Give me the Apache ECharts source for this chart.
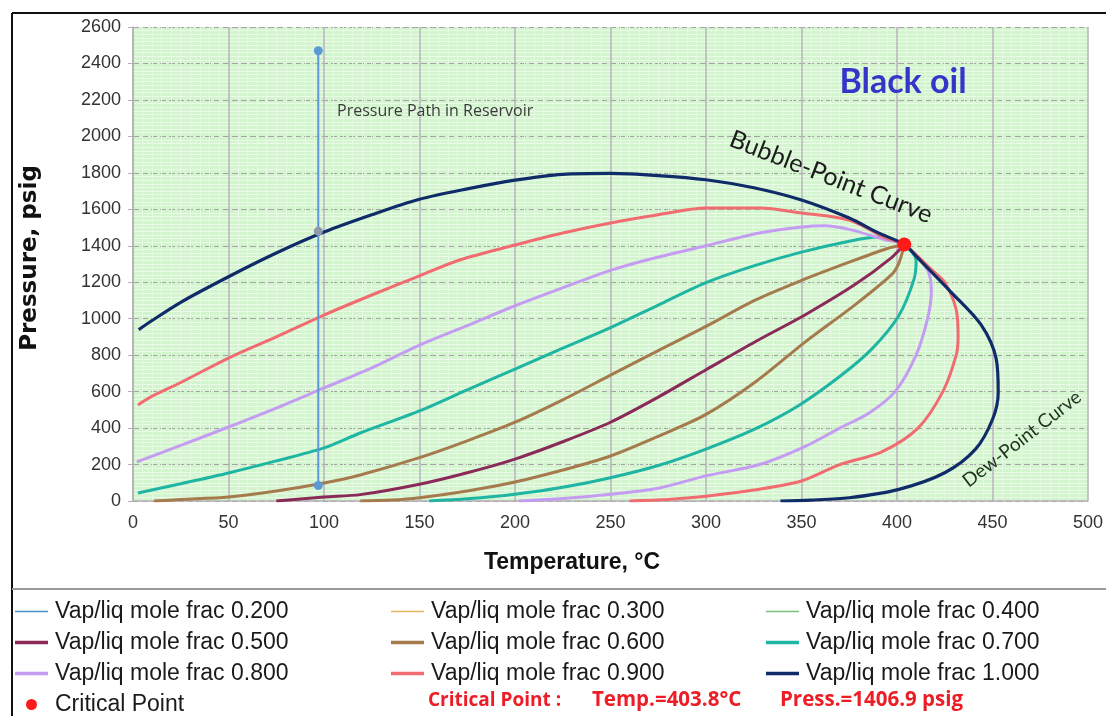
<!DOCTYPE html>
<html>
<head>
<meta charset="utf-8">
<script src="https://cdn.jsdelivr.net/npm/echarts@6/dist/echarts.min.js"></script>
<style>
  html, body { margin: 0; padding: 0; background: #fff; }
  #chart { width: 1106px; height: 716px; }
</style>
</head>
<body>
<div id="chart"></div>
<script>
// Temperature (°C), pressure (psig) pairs
const frac020 = []
const frac030 = []
const frac040 = []
const frac050 = [[75, 0], [100, 22], [119, 35], [150, 92], [175, 155], [200, 230], [225, 325], [250, 432], [275, 570], [300, 720], [326, 875], [352, 1022], [378, 1187], [397, 1334], [403.8, 1406.9]]
const frac060 = [[11, 0], [25, 8], [50, 22], [75, 55], [100, 99], [119, 143], [150, 238], [175, 330], [200, 432], [225, 555], [250, 690], [275, 825], [300, 958], [326, 1103], [350, 1210], [375, 1310], [395, 1385], [403.8, 1406.9],
  [401, 1305], [397, 1240], [378, 1076], [352, 873], [326, 654], [300, 475], [275, 355], [250, 247], [225, 170], [200, 104], [175, 55], [150, 18], [135, 5], [119, 0]]
const frac070 = [[2.6, 44], [25, 95], [50, 154], [75, 220], [100, 291], [119, 373], [150, 494], [175, 610], [200, 723], [225, 838], [250, 951], [275, 1075], [300, 1198], [325, 1290], [350, 1365], [375, 1425], [390, 1448], [398, 1430], [403.8, 1406.9],
  [410, 1322], [409, 1220], [401, 1018], [387, 836], [371, 691], [349, 527], [326, 397], [300, 285], [275, 195], [250, 128], [225, 75], [200, 37], [175, 12], [155, 0]]
const frac080 = [[2, 215], [25, 305], [50, 406], [75, 510], [100, 620], [125, 730], [150, 855], [175, 962], [200, 1071], [225, 1170], [250, 1265], [272, 1330], [300, 1400], [328, 1470], [350, 1503], [362, 1510], [375, 1490], [394, 1432], [403.8, 1406.9],
  [416, 1267], [418, 1150], [416, 1000], [410, 800], [399, 600], [385, 480], [370, 400], [352, 300], [328, 200], [300, 138], [275, 70], [250, 37], [225, 14], [202, 0]]
const frac090 = [[2.6, 527], [10, 575], [25, 650], [50, 784], [75, 900], [100, 1020], [125, 1130], [150, 1235], [171, 1322], [200, 1404], [225, 1470], [250, 1525], [275, 1570], [300, 1607], [328, 1607], [350, 1580], [375, 1541], [394, 1443], [403.8, 1406.9],
  [418, 1270], [425, 1200], [431, 1050], [432, 900], [431, 800], [424, 600], [411, 400], [392, 270], [370, 200], [350, 110], [325, 60], [300, 26], [280, 8], [260, 0]]
const frac100 = [[3, 940], [10, 990], [25, 1090], [50, 1230], [75, 1360], [100, 1475], [125, 1570], [150, 1655], [175, 1712], [200, 1760], [225, 1792], [250, 1797], [275, 1785], [300, 1762], [325, 1718], [350, 1651], [375, 1552], [390, 1472], [403.8, 1406.9],
  [411, 1332], [428, 1149], [444, 967], [452, 777], [453, 594], [450, 447], [441, 283], [425, 155], [401, 64], [375, 18], [355, 5], [339, 0]]
const pressurePath = [[97, 2470], [97, 1480], [97, 85]]
const criticalPoint = [[403.8, 1406.9]]

const fracNames = ['0.200', '0.300', '0.400', '0.500', '0.600', '0.700', '0.800', '0.900', '1.000']
const fracData = [frac020, frac030, frac040, frac050, frac060, frac070, frac080, frac090, frac100]
const fracColors = ['#4f8fc8', '#e8b45c', '#7bbf7b', '#8a2a58', '#a57a4c', '#1fb5a3', '#c49df3', '#f06c70', '#0f2c69']
const fracWidths = [1.5, 1.5, 1.5, 3, 3, 3, 3, 3, 3.2]

const label = f => 'Vap/liq mole frac ' + f
const armFont = '"Liberation Sans", Arial, sans-serif'
const calFont = 'Lato, "Open Sans", sans-serif'
const openFont = '"Open Sans", sans-serif'

// legend icons: flat bars, thin or thick like the series lines
const thinIcon = 'path://M0,0 L44,0 L44,2 L0,2 Z'
const thickIcon = 'path://M0,0 L33,0 L33,3.5 L0,3.5 Z'
const legendItem = f => ({ name: label(f), icon: Number(f) < 0.45 ? thinIcon : thickIcon })

const chart = echarts.init(document.getElementById('chart'))

const series = fracNames.map((f, i) => ({
  name: label(f),
  type: 'line',
  data: fracData[i],
  smooth: 0.3,
  showSymbol: false,
  symbol: 'none',
  color: fracColors[i],
  lineStyle: { color: fracColors[i], width: fracWidths[i] },
  z: 3 + i,
}))

series.push({
  name: 'Pressure Path',
  type: 'line',
  data: pressurePath,
  symbol: 'circle',
  symbolSize: 9,
  color: '#5b9bd5',
  lineStyle: { color: '#5b9bd5', width: 2 },
  itemStyle: { color: p => p.dataIndex === 1 ? '#8f9aae' : '#5b9bd5' },
  z: 20,
})

series.push({
  name: 'Critical Point',
  type: 'scatter',
  data: criticalPoint,
  symbolSize: 14,
  color: '#ff1a1a',
  itemStyle: { color: '#ff1a1a', opacity: 1 },
  z: 30,
})

const legendBase = {
  orient: 'vertical',
  top: 600,
  padding: 0,
  itemWidth: 33,
  itemHeight: 11,
  itemGap: 8,
  textStyle: { fontFamily: armFont, fontSize: 23, color: '#1a1a1a', padding: [0, 0, 0, 2] },
}

chart.setOption({
  animation: false,
  grid: {
    left: 133, top: 27, right: 16, bottom: 215,
    show: true, backgroundColor: '#d3f5ce', borderWidth: 0,
  },
  xAxis: {
    type: 'value', min: 0, max: 500, interval: 50,
    axisLine: { show: true, lineStyle: { color: '#b5b0b5', width: 1.5 } },
    axisTick: { show: false },
    axisLabel: { fontFamily: armFont, fontSize: 18, color: '#333', margin: 13 },
    splitLine: { show: true, lineStyle: { color: '#bab2c0', width: 1.5 } },
    minorTick: { show: false, splitNumber: 10 },
    minorSplitLine: { show: true, lineStyle: { color: '#e6f9e3', width: 1 } },
  },
  yAxis: {
    type: 'value', min: 0, max: 2600, interval: 200,
    name: 'Pressure, psig', nameLocation: 'middle', nameGap: 91,
    nameTextStyle: { fontFamily: '"DejaVu Sans", sans-serif', fontSize: 23, fontWeight: 'bold', color: '#111', padding: [0, 0, 0, 12] },
    axisLine: { show: true, lineStyle: { color: '#b5b0b5', width: 1.5 } },
    axisTick: { show: true, length: 5, lineStyle: { color: '#b5b0b5' } },
    axisLabel: { fontFamily: armFont, fontSize: 18, color: '#333', margin: 12, formatter: v => String(v) },
    splitLine: { show: true, lineStyle: { color: '#aaa2ab', width: 1.2, type: [6, 3] } },
    minorTick: { show: false, splitNumber: 10 },
    minorSplitLine: { show: true, lineStyle: { color: '#ecfbe9', width: 1 } },
  },
  legend: [
    Object.assign({}, legendBase, { left: 15, data: [legendItem('0.200'), legendItem('0.500'), legendItem('0.800'), { name: 'Critical Point', icon: 'circle' }] }),
    Object.assign({}, legendBase, { left: 391, data: [legendItem('0.300'), legendItem('0.600'), legendItem('0.900')] }),
    Object.assign({}, legendBase, { left: 766, data: [legendItem('0.400'), legendItem('0.700'), legendItem('1.000')] }),
  ],
  graphic: [
    { type: 'line', shape: { x1: 12, y1: 13, x2: 1106, y2: 13 }, style: { stroke: '#111', lineWidth: 2 }, silent: true },
    { type: 'line', shape: { x1: 12, y1: 13, x2: 12, y2: 716 }, style: { stroke: '#111', lineWidth: 2 }, silent: true },
    { type: 'line', shape: { x1: 12, y1: 589, x2: 1106, y2: 589 }, style: { stroke: '#9a9a9a', lineWidth: 2 }, silent: true },
    { type: 'text', x: 572, y: 563, z: 50,
      style: { text: 'Temperature, °C', font: 'bold 23px ' + armFont, fill: '#111', align: 'center', verticalAlign: 'middle' } },
    { type: 'text', left: 337, top: 103, z: 50,
      style: { text: 'Pressure Path in Reservoir', font: '16px ' + openFont, fill: '#3a3a3a' } },
    { type: 'text', x: 903, y: 82, z: 50,
      style: { text: 'Black oil', font: 'bold 34px ' + calFont, fill: '#3535c8', align: 'center', verticalAlign: 'middle' } },
    { type: 'text', x: 831, y: 177, rotation: -0.37, z: 50,
      style: { text: 'Bubble-Point Curve', font: '25px ' + calFont, fill: '#1c1c1c', align: 'center', verticalAlign: 'middle' } },
    { type: 'text', x: 1022, y: 439, rotation: 0.66, z: 50,
      style: { text: 'Dew-Point Curve', font: '19px ' + calFont, fill: '#1f331f', align: 'center', verticalAlign: 'middle' } },
    { type: 'text', left: 428, top: 691, z: 50,
      style: { text: 'Critical Point :', font: 'bold 19px ' + openFont, fill: '#ee1c24' } },
    { type: 'text', left: 592, top: 690, z: 50,
      style: { text: 'Temp.=403.8°C', font: 'bold 20.5px ' + openFont, fill: '#ee1c24' } },
    { type: 'text', left: 780, top: 690, z: 50,
      style: { text: 'Press.=1406.9 psig', font: 'bold 20.5px ' + openFont, fill: '#ee1c24' } },
  ],
  series: series,
})
</script>
</body>
</html>
